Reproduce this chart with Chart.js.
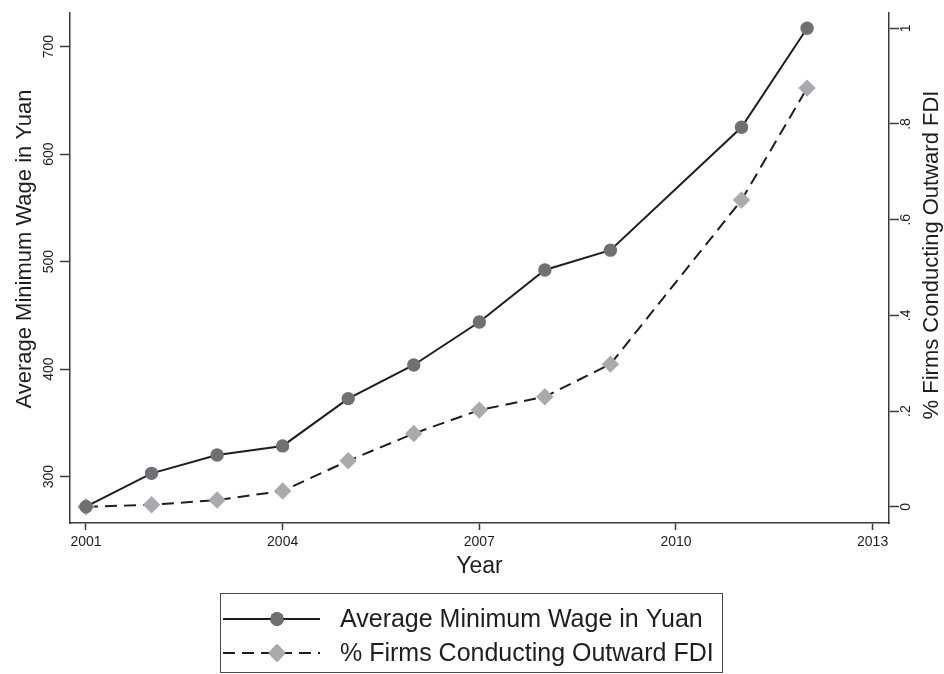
<!DOCTYPE html>
<html>
<head>
<meta charset="utf-8">
<script src="https://cdn.jsdelivr.net/npm/chart.js@4.4.1/dist/chart.umd.min.js"></script>
<style>
  html, body { margin: 0; padding: 0; background: #fff; }
  #wrap { width: 944px; height: 674px; }
</style>
</head>
<body>
<div id="wrap"><canvas id="wageChart" width="944" height="674"></canvas></div>
<script>
// values
const years = [2001, 2002, 2003, 2004, 2005, 2006, 2007, 2008, 2009, 2011, 2012];
const minWage = [272.1, 303.1, 320.2, 328.6, 372.6, 403.9, 443.9, 492.3, 510.7, 625.0, 717.1];
const fdiShare = [0.000, 0.004, 0.014, 0.033, 0.096, 0.153, 0.202, 0.230, 0.298, 0.641, 0.875];

const yearTicks = [2001, 2004, 2007, 2010, 2013];
const wageTicks = [300, 400, 500, 600, 700];
const shareTicks = [0, 0.2, 0.4, 0.6, 0.8, 1];
const seriesLabels = ['Average Minimum Wage in Yuan', '% Firms Conducting Outward FDI'];

const FONT = '"Liberation Sans", Arial, Helvetica, sans-serif';
const INK = '#1e1e1e';
const AXIS = '#3a3a3a';

function shareLabel(v) {
    if (v === 0) return '0';
    if (v === 1) return '1';
    return String(Math.round(v * 10) / 10).replace(/^0/, '');
}

// y titles in Stata read bottom-to-top on both sides
const sideTitles = {
    id: 'sideTitles',
    afterDraw(chart) {
        const ctx = chart.ctx;
        const mid = (chart.chartArea.top + chart.chartArea.bottom) / 2;
        ctx.save();
        ctx.font = '22px ' + FONT;
        ctx.fillStyle = INK;
        ctx.textAlign = 'center';
        ctx.textBaseline = 'middle';
        [[chart.scales.y.left + 25, mid - 19, seriesLabels[0]],
         [chart.scales.y2.right - 12, mid - 13, seriesLabels[1]]].forEach(([x, y, t]) => {
            ctx.save();
            ctx.translate(x, y);
            ctx.rotate(-Math.PI / 2);
            ctx.fillText(t, 0, 0);
            ctx.restore();
        });
        ctx.restore();
    }
};

// boxed legend under the plot, line sample with the marker in its middle
const boxLegend = {
    id: 'boxLegend',
    afterDraw(chart) {
        const ctx = chart.ctx;
        const box = { x: 220, y: 593, w: 502, h: 79 };
        ctx.save();
        ctx.strokeStyle = '#4a4a4a';
        ctx.lineWidth = 1;
        ctx.strokeRect(box.x + 0.5, box.y + 0.5, box.w, box.h);
        chart.data.datasets.forEach((ds, i) => {
            const cy = 619 + i * 34;
            const x0 = box.x + 3, x1 = box.x + 100, xm = box.x + 57;
            ctx.save();
            ctx.strokeStyle = ds.borderColor;
            ctx.lineWidth = ds.borderWidth;
            ctx.setLineDash(ds.borderDash || []);
            ctx.beginPath();
            ctx.moveTo(x0, cy);
            ctx.lineTo(x1, cy);
            ctx.stroke();
            ctx.restore();
            Chart.helpers.drawPoint(ctx, {
                pointStyle: ds.pointStyle,
                radius: ds.pointRadius,
                rotation: 0,
                borderWidth: 0
            }, xm, cy);
            ctx.fillStyle = ds.pointBackgroundColor;
            ctx.fill();
            ctx.fillStyle = INK;
            ctx.font = '25px ' + FONT;
            ctx.textAlign = 'left';
            ctx.textBaseline = 'middle';
            ctx.fillText(ds.label, box.x + 120, cy + 1);
        });
        ctx.restore();
    }
};

const ctx = document.getElementById('wageChart').getContext('2d');
new Chart(ctx, {
    type: 'line',
    data: {
        datasets: [{
            label: seriesLabels[0],
            data: years.map((yr, i) => ({ x: yr, y: minWage[i] })),
            yAxisID: 'y',
            borderColor: INK,
            borderWidth: 2,
            pointStyle: 'circle',
            pointRadius: 6.7,
            pointBackgroundColor: '#6f7074',
            pointBorderWidth: 0,
            tension: 0
        }, {
            label: seriesLabels[1],
            data: years.map((yr, i) => ({ x: yr, y: fdiShare[i] })),
            yAxisID: 'y2',
            borderColor: INK,
            borderWidth: 2,
            borderDash: [12, 7],
            pointStyle: 'rectRot',
            pointRadius: 8.7,
            pointBackgroundColor: '#a9aaae',
            pointBorderWidth: 0,
            tension: 0
        }]
    },
    options: {
        responsive: false,
        devicePixelRatio: 1,
        animation: false,
        layout: { padding: { top: 13, bottom: 89, left: 0, right: 0 } },
        plugins: {
            legend: { display: false },
            tooltip: { enabled: false }
        },
        scales: {
            x: {
                type: 'linear',
                min: 2000.756,
                max: 2013.25,
                afterBuildTicks: s => { s.ticks = yearTicks.map(v => ({ value: v })); },
                afterFit: s => { s.height = 62; },
                ticks: {
                    autoSkip: false,
                    maxRotation: 0,
                    padding: 4,
                    color: INK,
                    font: { family: FONT, size: 14 },
                    callback: v => String(v)
                },
                grid: { drawOnChartArea: false, drawTicks: true, tickLength: 7, tickColor: AXIS, tickWidth: 1.5 },
                border: { display: true, color: AXIS, width: 1.5 },
                title: {
                    display: true,
                    text: 'Year',
                    color: INK,
                    font: { family: FONT, size: 23 },
                    padding: { top: 0, bottom: 5 }
                }
            },
            y: {
                type: 'linear',
                position: 'left',
                min: 256.9,
                max: 731.3,
                afterBuildTicks: s => { s.ticks = wageTicks.map(v => ({ value: v })); },
                afterFit: s => { s.width = 70; },
                ticks: {
                    autoSkip: false,
                    minRotation: 90,
                    maxRotation: 90,
                    crossAlign: 'center',
                    padding: -1,
                    color: INK,
                    font: { family: FONT, size: 14 },
                    callback: v => String(v)
                },
                grid: { drawOnChartArea: false, drawTicks: true, tickLength: 10, tickColor: AXIS, tickWidth: 1.5 },
                border: { display: true, color: AXIS, width: 1.5 }
            },
            y2: {
                type: 'linear',
                position: 'right',
                min: -0.034,
                max: 1.032,
                afterBuildTicks: s => { s.ticks = shareTicks.map(v => ({ value: v })); },
                afterFit: s => { s.width = 55; },
                ticks: {
                    autoSkip: false,
                    minRotation: 90,
                    maxRotation: 90,
                    crossAlign: 'center',
                    padding: 1,
                    color: INK,
                    font: { family: FONT, size: 14 },
                    callback: v => shareLabel(v)
                },
                grid: { drawOnChartArea: false, drawTicks: true, tickLength: 10, tickColor: AXIS, tickWidth: 1.5 },
                border: { display: true, color: AXIS, width: 1.5 }
            }
        }
    },
    plugins: [sideTitles, boxLegend]
});
</script>
</body>
</html>
